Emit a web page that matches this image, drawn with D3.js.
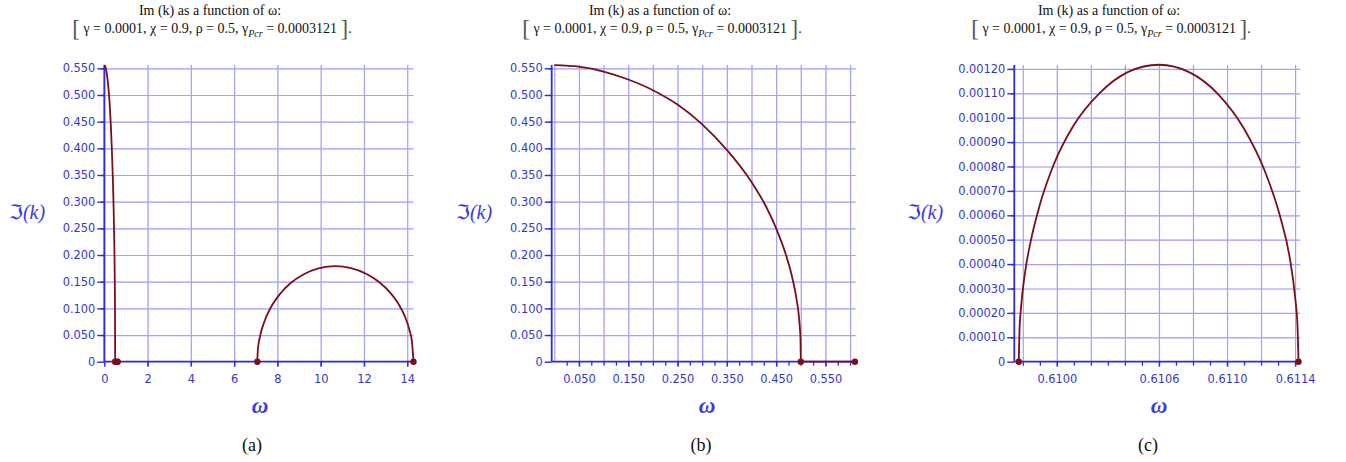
<!DOCTYPE html>
<html>
<head>
<meta charset="utf-8">
<script src="https://cdn.jsdelivr.net/npm/d3@7"></script>
<style>
  html, body { margin: 0; padding: 0; background: #ffffff; }
  svg { display: block; }
</style>
</head>
<body>
<svg id="fig" width="1346" height="462"></svg>
<script>
// ---------------------------------------------------------------
// Im(k) against ω for γ = 0.0001, χ = 0.9, ρ = 0.5
// ---------------------------------------------------------------

// Branch starting at ω = 0 and closing at ω ≈ 0.5
const omegaBranch1 = [0, 0.05, 0.10, 0.15, 0.20, 0.25, 0.30, 0.35, 0.40, 0.43, 0.45, 0.47, 0.48, 0.49, 0.495, 0.498, 0.4995, 0.5];
const imBranch1    = [0.5560, 0.5530, 0.5440, 0.5290, 0.5090, 0.4820, 0.4450, 0.3970, 0.3370, 0.2900, 0.2500, 0.2000, 0.1680, 0.1250, 0.0950, 0.0650, 0.0400, 0];

// Narrow unstable band between ω ≈ 0.60978 and ω ≈ 0.61142
const omegaBump = [0.609776, 0.60978, 0.60979, 0.60981, 0.60985, 0.60990, 0.60998, 0.61010, 0.61025, 0.61042, 0.61060, 0.61078, 0.61095, 0.61110, 0.61122, 0.61131, 0.61137, 0.61140, 0.611415, 0.61142];
const imBump    = [0, 0.000118, 0.000225, 0.000350, 0.000505, 0.000643, 0.000805, 0.000970, 0.001100, 0.001188, 0.001217, 0.001186, 0.001095, 0.000955, 0.000785, 0.000600, 0.000420, 0.000265, 0.000135, 0];

// Upper branch between ω ≈ 7.07 and ω ≈ 14.29
const omegaBranch2 = [7.07, 7.10, 7.20, 7.40, 7.70, 8.10, 8.60, 9.20, 9.90, 10.68, 11.40, 12.10, 12.70, 13.20, 13.60, 13.90, 14.10, 14.22, 14.29];
const imBranch2    = [0, 0.0235, 0.0480, 0.0755, 0.1020, 0.1260, 0.1470, 0.1635, 0.1750, 0.1790, 0.1755, 0.1650, 0.1495, 0.1300, 0.1080, 0.0840, 0.0600, 0.0370, 0];

// End points of the branches, marked with dots
const omegaEnds = [0.5, 0.609776, 0.61142, 7.07, 14.29];

// Tick labels
const ticksXa = [0, 2, 4, 6, 8, 10, 12, 14];
const ticksXb = [0.05, 0.15, 0.25, 0.35, 0.45, 0.55];
const ticksXc = [0.6100, 0.6106, 0.6110, 0.6114];
const ticksYab = [0, 0.05, 0.10, 0.15, 0.20, 0.25, 0.30, 0.35, 0.40, 0.45, 0.50, 0.55];
const ticksYc  = [0, 0.0001, 0.0002, 0.0003, 0.0004, 0.0005, 0.0006, 0.0007, 0.0008, 0.0009, 0.0010, 0.0011, 0.0012];

const subCaptions = ["(a)", "(b)", "(c)"];

// ---------------------------------------------------------------
const zip = (xs, ys) => xs.map((v, i) => [v, ys[i]]);
const branch1 = zip(omegaBranch1, imBranch1);
const bump = zip(omegaBump, imBump);
const branch2 = zip(omegaBranch2, imBranch2);
const lowBand = branch1.concat(bump);

const svg = d3.select("#fig");
svg.append("rect").attr("width", 1346).attr("height", 462).attr("fill", "#ffffff");

const BOTTOM = 361.7, TOP = 65;
const col = {
  major: "#a3a3f6",
  minor: "#dedefb",
  axis: "#2b2be3",
  tick: "#3434d2",
  curve: "#7a0f19",
  label: "#3a3ae2"
};

const stepRange = (a, b, s) => d3.range(Math.round(a / s), Math.round(b / s) + 1).map(i => +(i * s).toFixed(8));

const panels = [
  {
    cap: subCaptions[0],
    domainX: [0, 14.29], rangeX: [104.3, 413.5], yTop: 0.5562,
    gridMajorX: stepRange(0, 14, 2), gridMinorX: stepRange(1, 13, 2),
    tickMinorX: stepRange(1, 13, 2), ticksX: ticksXa, fmtX: d3.format("d"),
    ticksY: ticksYab, yStep: 0.05, fmtY: d => d === 0 ? "0" : d3.format(".3f")(d),
    series: [lowBand, branch2],
    titleX: 210, omegaX: 260, imX: 27, capX: 252
  },
  {
    cap: subCaptions[1],
    domainX: [-0.0053, 0.6114], rangeX: [551.7, 855.7], yTop: 0.5562,
    gridMajorX: stepRange(0, 0.6, 0.05), gridMinorX: stepRange(0.025, 0.6, 0.05),
    tickMinorX: stepRange(0.025, 0.6, 0.025), ticksX: ticksXb, fmtX: d3.format(".3f"),
    ticksY: ticksYab, yStep: 0.05, fmtY: d => d === 0 ? "0" : d3.format(".3f")(d),
    series: [lowBand],
    titleX: 660, omegaX: 707, imX: 474, capX: 701
  },
  {
    cap: subCaptions[2],
    domainX: [0.60975, 0.61143], rangeX: [1014.3, 1300.2], yTop: 0.001216,
    gridMajorX: stepRange(0.6098, 0.6114, 0.0002), gridMinorX: stepRange(0.6099, 0.6113, 0.0002),
    tickMinorX: stepRange(0.6098, 0.6114, 0.0001), ticksX: ticksXc, fmtX: d3.format(".4f"),
    ticksY: ticksYc, yStep: 0.0001, fmtY: d => d === 0 ? "0" : d3.format(".5f")(d),
    series: [bump],
    titleX: 1109, omegaX: 1159, imX: 925, capX: 1148
  }
];

const serif = "'Liberation Serif', 'Times New Roman', serif";

panels.forEach(p => {
  const g = svg.append("g");
  const x = d3.scaleLinear().domain(p.domainX).range(p.rangeX);
  const y = d3.scaleLinear().domain([0, p.yTop]).range([BOTTOM, TOP]);
  const x0 = p.rangeX[0], x1 = p.rangeX[1];
  const plotH = BOTTOM - TOP, plotW = x1 - x0;

  const gridMinorY = stepRange(p.yStep / 2, p.yTop, p.yStep).filter(v => v <= p.yTop);
  const gridMajorY = p.ticksY.filter(v => v > 0);

  // light grid
  g.append("g").attr("transform", `translate(0,${BOTTOM})`)
    .call(d3.axisBottom(x).tickValues(p.gridMinorX).tickSize(-plotH).tickFormat(""))
    .call(s => s.select(".domain").remove())
    .selectAll("line").attr("stroke", col.minor).attr("stroke-width", 1);
  g.append("g").attr("transform", `translate(${x0},0)`)
    .call(d3.axisLeft(y).tickValues(gridMinorY).tickSize(-plotW).tickFormat(""))
    .call(s => s.select(".domain").remove())
    .selectAll("line").attr("stroke", col.minor).attr("stroke-width", 1);

  // main grid
  g.append("g").attr("transform", `translate(0,${BOTTOM})`)
    .call(d3.axisBottom(x).tickValues(p.gridMajorX).tickSize(-plotH).tickFormat(""))
    .call(s => s.select(".domain").remove())
    .selectAll("line").attr("stroke", col.major).attr("stroke-width", 1.2);
  g.append("g").attr("transform", `translate(${x0},0)`)
    .call(d3.axisLeft(y).tickValues(gridMajorY).tickSize(-plotW).tickFormat(""))
    .call(s => s.select(".domain").remove())
    .selectAll("line").attr("stroke", col.major).attr("stroke-width", 1.2);

  // minor ticks
  g.append("g").attr("transform", `translate(${x0},0)`)
    .call(d3.axisLeft(y).tickValues(gridMinorY).tickSize(3).tickFormat(""))
    .call(s => s.select(".domain").remove())
    .selectAll("line").attr("stroke", col.axis).attr("stroke-width", 1.3);
  g.append("g").attr("transform", `translate(0,${BOTTOM})`)
    .call(d3.axisBottom(x).tickValues(p.tickMinorX).tickSize(4).tickFormat(""))
    .call(s => s.select(".domain").remove())
    .selectAll("line").attr("stroke", col.axis).attr("stroke-width", 1.3);

  // labelled ticks
  const yAx = g.append("g").attr("transform", `translate(${x0},0)`)
    .call(d3.axisLeft(y).tickValues(p.ticksY).tickSize(7).tickPadding(2).tickFormat(p.fmtY));
  const xAx = g.append("g").attr("transform", `translate(0,${BOTTOM})`)
    .call(d3.axisBottom(x).tickValues(p.ticksX).tickSize(5).tickPadding(8).tickFormat(p.fmtX));
  [yAx, xAx].forEach(a => {
    a.select(".domain").remove();
    a.selectAll("line").attr("stroke", col.axis).attr("stroke-width", 1.4);
    a.selectAll("text").attr("fill", col.tick)
      .style("font-family", "'DejaVu Sans', sans-serif").style("font-size", "11.4px");
  });

  // axis lines
  g.append("line").attr("x1", x0).attr("x2", x0).attr("y1", BOTTOM).attr("y2", TOP)
    .attr("stroke", col.axis).attr("stroke-width", 1.8);
  g.append("line").attr("x1", x0).attr("x2", x1).attr("y1", BOTTOM).attr("y2", BOTTOM)
    .attr("stroke", col.axis).attr("stroke-width", 1.8);

  // curves
  const line = d3.line().x(d => x(d[0])).y(d => y(d[1])).curve(d3.curveMonotoneX);
  p.series.forEach(s => {
    g.append("path").attr("d", line(s)).attr("fill", "none")
      .attr("stroke", col.curve).attr("stroke-width", 1.8).attr("stroke-linejoin", "round");
  });

  // end-point markers
  const lo = Math.min(...p.domainX), hi = Math.max(...p.domainX);
  g.selectAll("circle.end").data(omegaEnds.filter(w => w >= lo - 1e-9 && w <= hi + 1e-6)).join("circle")
    .attr("class", "end").attr("cx", d => x(d)).attr("cy", y(0)).attr("r", 3.2).attr("fill", col.curve);

  // title
  g.append("text").attr("x", p.titleX).attr("y", 15).attr("text-anchor", "middle")
    .style("font-family", serif).style("font-size", "14px").attr("fill", "#111")
    .text("Im (k) as a function of ω:");
  const t2 = g.append("text").attr("x", p.titleX + 2).attr("y", 33).attr("text-anchor", "middle")
    .style("font-family", serif).style("font-size", "14px").attr("fill", "#111");
  t2.append("tspan").style("font-size", "23px").attr("dy", 3).attr("fill", "#555").text("[");
  t2.append("tspan").attr("dy", -3).text(" γ = 0.0001, χ = 0.9, ρ = 0.5, γ");
  t2.append("tspan").attr("dy", 4).style("font-size", "10px").style("font-style", "italic").text("Pcr");
  t2.append("tspan").attr("dy", -4).text(" = 0.0003121 ");
  t2.append("tspan").style("font-size", "23px").attr("dy", 3).attr("fill", "#555").text("]");
  t2.append("tspan").attr("dy", -3).text(".");

  // axis titles
  g.append("text").attr("x", p.omegaX).attr("y", 413).attr("text-anchor", "middle")
    .style("font-family", serif).style("font-size", "23px")
    .style("font-style", "italic").style("font-weight", "bold").attr("fill", col.label).text("ω");
  const im = g.append("text").attr("x", p.imX).attr("y", 219).attr("text-anchor", "middle")
    .attr("fill", col.label);
  im.append("tspan").style("font-family", "'DejaVu Sans', sans-serif").style("font-size", "20px").text("ℑ");
  im.append("tspan").style("font-family", serif).style("font-size", "20px").style("font-style", "italic").text("(k)");

  // sub-caption
  g.append("text").attr("x", p.capX).attr("y", 451).attr("text-anchor", "middle")
    .style("font-family", serif).style("font-size", "18px")
    .attr("fill", "#111").text(p.cap);
});
</script>
</body>
</html>
